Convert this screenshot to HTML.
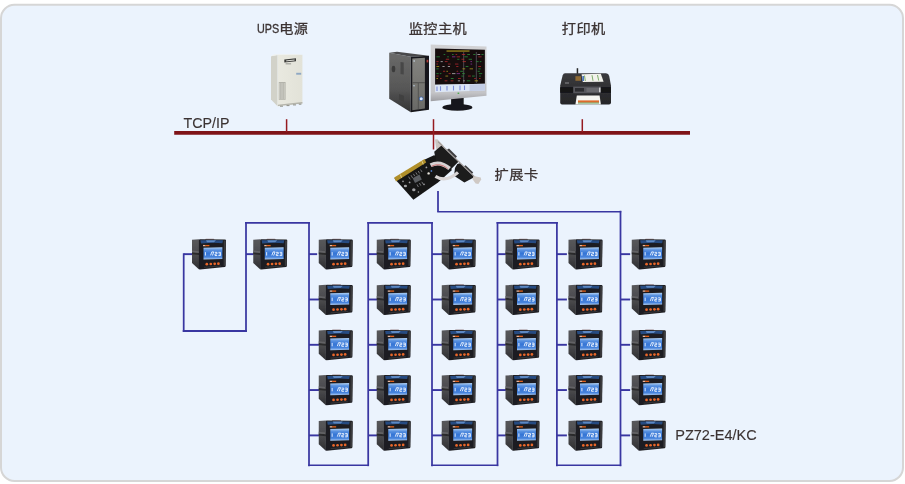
<!DOCTYPE html>
<html lang="zh-CN"><head><meta charset="utf-8"><title>监控系统网络结构图</title>
<style>
html,body{margin:0;padding:0;background:#fff;}
body{width:905px;height:484px;overflow:hidden;}
svg{display:block;}
.cn{font-family:"Liberation Sans","Noto Sans CJK SC",sans-serif;font-size:14.2px;letter-spacing:0.45px;fill:#3b3333;stroke:#3b3333;stroke-width:0.3px;}
.ups{font-family:"Liberation Sans",sans-serif;font-size:15.1px;letter-spacing:0;stroke-width:0.38px;}
.en{font-family:"Liberation Sans",sans-serif;font-size:15px;fill:#3b3333;stroke:#3b3333;stroke-width:0.12px;}
</style></head><body>
<svg width="905" height="484" viewBox="0 0 905 484">
<defs>
<linearGradient id="lcd" x1="0" y1="0" x2="0" y2="1"><stop offset="0" stop-color="#b4d4f6"/><stop offset="0.22" stop-color="#5a92e0"/><stop offset="0.5" stop-color="#3575d6"/><stop offset="0.8" stop-color="#4683dc"/><stop offset="1" stop-color="#acccf4"/></linearGradient>
<filter id="soft" x="-5%" y="-5%" width="110%" height="110%"><feGaussianBlur stdDeviation="0.35"/></filter>
<filter id="tsoft" x="-5%" y="-20%" width="110%" height="140%"><feGaussianBlur stdDeviation="0.25"/></filter>
<linearGradient id="upsF" x1="0" y1="0" x2="1" y2="0"><stop offset="0" stop-color="#e9e9e0"/><stop offset="1" stop-color="#e2e2d8"/></linearGradient>
<linearGradient id="pcS" x1="0" y1="0" x2="0" y2="1"><stop offset="0" stop-color="#6a6a69"/><stop offset="0.6" stop-color="#575757"/><stop offset="1" stop-color="#333334"/></linearGradient>
<linearGradient id="pcF" x1="0" y1="0" x2="0" y2="1"><stop offset="0" stop-color="#83837f"/><stop offset="1" stop-color="#6a6a67"/></linearGradient>
<linearGradient id="monB" x1="0" y1="0" x2="0" y2="1"><stop offset="0" stop-color="#d2d2d4"/><stop offset="0.85" stop-color="#c4c4c7"/><stop offset="1" stop-color="#9d9da2"/></linearGradient>
<linearGradient id="prB" x1="0" y1="0" x2="0" y2="1"><stop offset="0" stop-color="#3a3a3d"/><stop offset="1" stop-color="#262628"/></linearGradient>
<linearGradient id="mside" x1="0" y1="0" x2="0" y2="1"><stop offset="0" stop-color="#58585b"/><stop offset="0.55" stop-color="#48484b"/><stop offset="1" stop-color="#2e2e31"/></linearGradient>
</defs>
<rect x="0" y="0" width="905" height="484" fill="#ffffff"/>
<rect x="1" y="4.8" width="902" height="476.2" rx="13.5" ry="13.5" fill="#ebf3fd" stroke="#d6d6d6" stroke-width="2"/>
<g stroke="#7f1318" fill="none">
<line x1="174.2" y1="132.8" x2="690" y2="132.8" stroke-width="3.7"/>
<line x1="286.6" y1="119.2" x2="286.6" y2="132" stroke-width="1.5" stroke="#951a20"/>
<line x1="433.5" y1="119.2" x2="433.5" y2="149.5" stroke-width="1.5" stroke="#951a20"/>
<line x1="582.3" y1="119.2" x2="582.3" y2="132" stroke-width="1.5" stroke="#951a20"/>
</g>
<g stroke="#3936a1" fill="none" stroke-linecap="square">
<line x1="438.0" y1="191" x2="438.0" y2="211.7" stroke-width="1.75" stroke-linecap="butt"/>
<line x1="438.0" y1="211.7" x2="620.5" y2="211.7" stroke-width="1.55"/>
<line x1="620.5" y1="211.7" x2="620.5" y2="465.3" stroke-width="1.75"/>
<line x1="620.5" y1="465.3" x2="556.9" y2="465.3" stroke-width="1.4"/>
<line x1="556.9" y1="465.3" x2="556.9" y2="222.9" stroke-width="1.75"/>
<line x1="556.9" y1="222.9" x2="497.5" y2="222.9" stroke-width="1.9"/>
<line x1="497.5" y1="222.9" x2="497.5" y2="465.3" stroke-width="1.75"/>
<line x1="497.5" y1="465.3" x2="432.0" y2="465.3" stroke-width="1.4"/>
<line x1="432.0" y1="465.3" x2="432.0" y2="222.9" stroke-width="1.75"/>
<line x1="432.0" y1="222.9" x2="368.2" y2="222.9" stroke-width="1.9"/>
<line x1="368.2" y1="222.9" x2="368.2" y2="465.3" stroke-width="1.75"/>
<line x1="368.2" y1="465.3" x2="309.0" y2="465.3" stroke-width="1.4"/>
<line x1="309.0" y1="465.3" x2="309.0" y2="222.9" stroke-width="1.75"/>
<line x1="309.0" y1="222.9" x2="246" y2="222.9" stroke-width="1.9"/>
<line x1="246" y1="222.9" x2="246" y2="331.0" stroke-width="1.75"/>
<line x1="246" y1="331.0" x2="183.7" y2="331.0" stroke-width="1.9"/>
<line x1="183.7" y1="331.0" x2="183.7" y2="254.15" stroke-width="1.75"/>
<line x1="183.7" y1="254.15" x2="192.6" y2="254.15" stroke-width="1.9" stroke-linecap="butt"/>
<line x1="246" y1="254.15" x2="253.85" y2="254.15" stroke-width="1.9" stroke-linecap="butt"/>
<line x1="309.0" y1="254.15" x2="317.15" y2="254.15" stroke-width="1.9" stroke-linecap="butt"/>
<line x1="309.0" y1="299.5" x2="319.15" y2="299.5" stroke-width="1.9" stroke-linecap="butt"/>
<line x1="309.0" y1="344.8" x2="319.15" y2="344.8" stroke-width="1.9" stroke-linecap="butt"/>
<line x1="309.0" y1="390.05" x2="319.15" y2="390.05" stroke-width="1.9" stroke-linecap="butt"/>
<line x1="309.0" y1="435.4" x2="319.15" y2="435.4" stroke-width="1.9" stroke-linecap="butt"/>
<line x1="368.2" y1="254.15" x2="377.15" y2="254.15" stroke-width="1.9" stroke-linecap="butt"/>
<line x1="368.2" y1="299.5" x2="377.15" y2="299.5" stroke-width="1.9" stroke-linecap="butt"/>
<line x1="368.2" y1="344.8" x2="377.15" y2="344.8" stroke-width="1.9" stroke-linecap="butt"/>
<line x1="368.2" y1="390.05" x2="377.15" y2="390.05" stroke-width="1.9" stroke-linecap="butt"/>
<line x1="368.2" y1="435.4" x2="377.15" y2="435.4" stroke-width="1.9" stroke-linecap="butt"/>
<line x1="432.0" y1="254.15" x2="442.15" y2="254.15" stroke-width="1.9" stroke-linecap="butt"/>
<line x1="432.0" y1="299.5" x2="442.15" y2="299.5" stroke-width="1.9" stroke-linecap="butt"/>
<line x1="432.0" y1="344.8" x2="442.15" y2="344.8" stroke-width="1.9" stroke-linecap="butt"/>
<line x1="432.0" y1="390.05" x2="442.15" y2="390.05" stroke-width="1.9" stroke-linecap="butt"/>
<line x1="432.0" y1="435.4" x2="442.15" y2="435.4" stroke-width="1.9" stroke-linecap="butt"/>
<line x1="497.5" y1="254.15" x2="505.9" y2="254.15" stroke-width="1.9" stroke-linecap="butt"/>
<line x1="497.5" y1="299.5" x2="505.9" y2="299.5" stroke-width="1.9" stroke-linecap="butt"/>
<line x1="497.5" y1="344.8" x2="505.9" y2="344.8" stroke-width="1.9" stroke-linecap="butt"/>
<line x1="497.5" y1="390.05" x2="505.9" y2="390.05" stroke-width="1.9" stroke-linecap="butt"/>
<line x1="497.5" y1="435.4" x2="505.9" y2="435.4" stroke-width="1.9" stroke-linecap="butt"/>
<line x1="556.9" y1="254.15" x2="566.9" y2="254.15" stroke-width="1.9" stroke-linecap="butt"/>
<line x1="556.9" y1="299.5" x2="566.9" y2="299.5" stroke-width="1.9" stroke-linecap="butt"/>
<line x1="556.9" y1="344.8" x2="566.9" y2="344.8" stroke-width="1.9" stroke-linecap="butt"/>
<line x1="556.9" y1="390.05" x2="566.9" y2="390.05" stroke-width="1.9" stroke-linecap="butt"/>
<line x1="556.9" y1="435.4" x2="566.9" y2="435.4" stroke-width="1.9" stroke-linecap="butt"/>
<line x1="620.5" y1="254.15" x2="630.15" y2="254.15" stroke-width="1.9" stroke-linecap="butt"/>
<line x1="620.5" y1="299.5" x2="630.15" y2="299.5" stroke-width="1.9" stroke-linecap="butt"/>
<line x1="620.5" y1="344.8" x2="630.15" y2="344.8" stroke-width="1.9" stroke-linecap="butt"/>
<line x1="620.5" y1="390.05" x2="630.15" y2="390.05" stroke-width="1.9" stroke-linecap="butt"/>
<line x1="620.5" y1="435.4" x2="630.15" y2="435.4" stroke-width="1.9" stroke-linecap="butt"/>
</g>
<g transform="translate(192,238.75)" filter="url(#soft)">
<polygon points="0,1.1 7.1,0.6 7.1,30.7 0,24.2" fill="url(#mside)"/>
<polygon points="0,13.6 7.1,14.3 7.1,16.2 0,15.4" fill="#29292b"/>
<polygon points="0,11.8 7.1,12.5 7.1,14.3 0,13.6" fill="#626265"/>
<rect x="13.2" y="-0.1" width="9.2" height="1.6" rx="0.8" fill="#a08c90"/>
<path d="M8,0.6 L33,0.8 Q34,0.8 34,1.8 L33.6,27.2 Q33.6,28.1 32.7,28.2 L8,30.8 Q6.9,30.9 6.9,29.8 L6.9,1.6 Q6.9,0.6 8,0.6Z" fill="#1e1e21"/>
<polygon points="31.8,1.8 33.8,1.8 33.4,27 31.6,27.2" fill="#3a3a3d"/>
<polygon points="8.4,1.5 31,1.6 30.4,4.4 21,4 9,4.8" fill="#2b5a9d" opacity="0.78"/>
<polygon points="14,1.6 24,1.6 22,3.4 15,3.6" fill="#6a98d4" opacity="0.8"/>
<rect x="11" y="6.2" width="2.6" height="1.3" fill="#e8b8a0"/><rect x="13.4" y="6.2" width="4" height="1.3" fill="#e2621e"/>
<polygon points="11.5,8.9 30.4,8.5 30.4,20.3 11.5,20.7" fill="url(#lcd)"/>
<path d="M13.4,13.4v3.4M18.6,16.6l1.2,-3.4h2l-1.4,3.6M22.8,13.6h2.2v1.6h-2v1.6h2.2M26.4,13.6h2.2v3.2h-2.2M26.6,15.2h2" stroke="#f2f7ff" stroke-width="0.9" fill="none"/>
<circle cx="14.8" cy="25.4" r="1.35" fill="#ea672b"/>
<circle cx="18.8" cy="25.25" r="1.35" fill="#ea672b"/>
<circle cx="22.7" cy="25.1" r="1.35" fill="#ea672b"/>
<circle cx="26.4" cy="24.95" r="1.35" fill="#ea672b"/>
<path d="M12,28.6 L29,27.2" stroke="#3a3a3e" stroke-width="0.8"/>
</g>
<g transform="translate(253.25,238.75)" filter="url(#soft)">
<polygon points="0,1.1 7.1,0.6 7.1,30.7 0,24.2" fill="url(#mside)"/>
<polygon points="0,13.6 7.1,14.3 7.1,16.2 0,15.4" fill="#29292b"/>
<polygon points="0,11.8 7.1,12.5 7.1,14.3 0,13.6" fill="#626265"/>
<rect x="13.2" y="-0.1" width="9.2" height="1.6" rx="0.8" fill="#a08c90"/>
<path d="M8,0.6 L33,0.8 Q34,0.8 34,1.8 L33.6,27.2 Q33.6,28.1 32.7,28.2 L8,30.8 Q6.9,30.9 6.9,29.8 L6.9,1.6 Q6.9,0.6 8,0.6Z" fill="#1e1e21"/>
<polygon points="31.8,1.8 33.8,1.8 33.4,27 31.6,27.2" fill="#3a3a3d"/>
<polygon points="8.4,1.5 31,1.6 30.4,4.4 21,4 9,4.8" fill="#2b5a9d" opacity="0.78"/>
<polygon points="14,1.6 24,1.6 22,3.4 15,3.6" fill="#6a98d4" opacity="0.8"/>
<rect x="11" y="6.2" width="2.6" height="1.3" fill="#e8b8a0"/><rect x="13.4" y="6.2" width="4" height="1.3" fill="#e2621e"/>
<polygon points="11.5,8.9 30.4,8.5 30.4,20.3 11.5,20.7" fill="url(#lcd)"/>
<path d="M13.4,13.4v3.4M18.6,16.6l1.2,-3.4h2l-1.4,3.6M22.8,13.6h2.2v1.6h-2v1.6h2.2M26.4,13.6h2.2v3.2h-2.2M26.6,15.2h2" stroke="#f2f7ff" stroke-width="0.9" fill="none"/>
<circle cx="14.8" cy="25.4" r="1.35" fill="#ea672b"/>
<circle cx="18.8" cy="25.25" r="1.35" fill="#ea672b"/>
<circle cx="22.7" cy="25.1" r="1.35" fill="#ea672b"/>
<circle cx="26.4" cy="24.95" r="1.35" fill="#ea672b"/>
<path d="M12,28.6 L29,27.2" stroke="#3a3a3e" stroke-width="0.8"/>
</g>
<g transform="translate(318.75,238.75)" filter="url(#soft)">
<polygon points="0,1.1 7.1,0.6 7.1,30.7 0,24.2" fill="url(#mside)"/>
<polygon points="0,13.6 7.1,14.3 7.1,16.2 0,15.4" fill="#29292b"/>
<polygon points="0,11.8 7.1,12.5 7.1,14.3 0,13.6" fill="#626265"/>
<rect x="13.2" y="-0.1" width="9.2" height="1.6" rx="0.8" fill="#a08c90"/>
<path d="M8,0.6 L33,0.8 Q34,0.8 34,1.8 L33.6,27.2 Q33.6,28.1 32.7,28.2 L8,30.8 Q6.9,30.9 6.9,29.8 L6.9,1.6 Q6.9,0.6 8,0.6Z" fill="#1e1e21"/>
<polygon points="31.8,1.8 33.8,1.8 33.4,27 31.6,27.2" fill="#3a3a3d"/>
<polygon points="8.4,1.5 31,1.6 30.4,4.4 21,4 9,4.8" fill="#2b5a9d" opacity="0.78"/>
<polygon points="14,1.6 24,1.6 22,3.4 15,3.6" fill="#6a98d4" opacity="0.8"/>
<rect x="11" y="6.2" width="2.6" height="1.3" fill="#e8b8a0"/><rect x="13.4" y="6.2" width="4" height="1.3" fill="#e2621e"/>
<polygon points="11.5,8.9 30.4,8.5 30.4,20.3 11.5,20.7" fill="url(#lcd)"/>
<path d="M13.4,13.4v3.4M18.6,16.6l1.2,-3.4h2l-1.4,3.6M22.8,13.6h2.2v1.6h-2v1.6h2.2M26.4,13.6h2.2v3.2h-2.2M26.6,15.2h2" stroke="#f2f7ff" stroke-width="0.9" fill="none"/>
<circle cx="14.8" cy="25.4" r="1.35" fill="#ea672b"/>
<circle cx="18.8" cy="25.25" r="1.35" fill="#ea672b"/>
<circle cx="22.7" cy="25.1" r="1.35" fill="#ea672b"/>
<circle cx="26.4" cy="24.95" r="1.35" fill="#ea672b"/>
<path d="M12,28.6 L29,27.2" stroke="#3a3a3e" stroke-width="0.8"/>
</g>
<g transform="translate(318.75,284.25)" filter="url(#soft)">
<polygon points="0,1.1 7.1,0.6 7.1,30.7 0,24.2" fill="url(#mside)"/>
<polygon points="0,13.6 7.1,14.3 7.1,16.2 0,15.4" fill="#29292b"/>
<polygon points="0,11.8 7.1,12.5 7.1,14.3 0,13.6" fill="#626265"/>
<rect x="13.2" y="-0.1" width="9.2" height="1.6" rx="0.8" fill="#a08c90"/>
<path d="M8,0.6 L33,0.8 Q34,0.8 34,1.8 L33.6,27.2 Q33.6,28.1 32.7,28.2 L8,30.8 Q6.9,30.9 6.9,29.8 L6.9,1.6 Q6.9,0.6 8,0.6Z" fill="#1e1e21"/>
<polygon points="31.8,1.8 33.8,1.8 33.4,27 31.6,27.2" fill="#3a3a3d"/>
<polygon points="8.4,1.5 31,1.6 30.4,4.4 21,4 9,4.8" fill="#2b5a9d" opacity="0.78"/>
<polygon points="14,1.6 24,1.6 22,3.4 15,3.6" fill="#6a98d4" opacity="0.8"/>
<rect x="11" y="6.2" width="2.6" height="1.3" fill="#e8b8a0"/><rect x="13.4" y="6.2" width="4" height="1.3" fill="#e2621e"/>
<polygon points="11.5,8.9 30.4,8.5 30.4,20.3 11.5,20.7" fill="url(#lcd)"/>
<path d="M13.4,13.4v3.4M18.6,16.6l1.2,-3.4h2l-1.4,3.6M22.8,13.6h2.2v1.6h-2v1.6h2.2M26.4,13.6h2.2v3.2h-2.2M26.6,15.2h2" stroke="#f2f7ff" stroke-width="0.9" fill="none"/>
<circle cx="14.8" cy="25.4" r="1.35" fill="#ea672b"/>
<circle cx="18.8" cy="25.25" r="1.35" fill="#ea672b"/>
<circle cx="22.7" cy="25.1" r="1.35" fill="#ea672b"/>
<circle cx="26.4" cy="24.95" r="1.35" fill="#ea672b"/>
<path d="M12,28.6 L29,27.2" stroke="#3a3a3e" stroke-width="0.8"/>
</g>
<g transform="translate(318.75,329.5)" filter="url(#soft)">
<polygon points="0,1.1 7.1,0.6 7.1,30.7 0,24.2" fill="url(#mside)"/>
<polygon points="0,13.6 7.1,14.3 7.1,16.2 0,15.4" fill="#29292b"/>
<polygon points="0,11.8 7.1,12.5 7.1,14.3 0,13.6" fill="#626265"/>
<rect x="13.2" y="-0.1" width="9.2" height="1.6" rx="0.8" fill="#a08c90"/>
<path d="M8,0.6 L33,0.8 Q34,0.8 34,1.8 L33.6,27.2 Q33.6,28.1 32.7,28.2 L8,30.8 Q6.9,30.9 6.9,29.8 L6.9,1.6 Q6.9,0.6 8,0.6Z" fill="#1e1e21"/>
<polygon points="31.8,1.8 33.8,1.8 33.4,27 31.6,27.2" fill="#3a3a3d"/>
<polygon points="8.4,1.5 31,1.6 30.4,4.4 21,4 9,4.8" fill="#2b5a9d" opacity="0.78"/>
<polygon points="14,1.6 24,1.6 22,3.4 15,3.6" fill="#6a98d4" opacity="0.8"/>
<rect x="11" y="6.2" width="2.6" height="1.3" fill="#e8b8a0"/><rect x="13.4" y="6.2" width="4" height="1.3" fill="#e2621e"/>
<polygon points="11.5,8.9 30.4,8.5 30.4,20.3 11.5,20.7" fill="url(#lcd)"/>
<path d="M13.4,13.4v3.4M18.6,16.6l1.2,-3.4h2l-1.4,3.6M22.8,13.6h2.2v1.6h-2v1.6h2.2M26.4,13.6h2.2v3.2h-2.2M26.6,15.2h2" stroke="#f2f7ff" stroke-width="0.9" fill="none"/>
<circle cx="14.8" cy="25.4" r="1.35" fill="#ea672b"/>
<circle cx="18.8" cy="25.25" r="1.35" fill="#ea672b"/>
<circle cx="22.7" cy="25.1" r="1.35" fill="#ea672b"/>
<circle cx="26.4" cy="24.95" r="1.35" fill="#ea672b"/>
<path d="M12,28.6 L29,27.2" stroke="#3a3a3e" stroke-width="0.8"/>
</g>
<g transform="translate(318.75,374.5)" filter="url(#soft)">
<polygon points="0,1.1 7.1,0.6 7.1,30.7 0,24.2" fill="url(#mside)"/>
<polygon points="0,13.6 7.1,14.3 7.1,16.2 0,15.4" fill="#29292b"/>
<polygon points="0,11.8 7.1,12.5 7.1,14.3 0,13.6" fill="#626265"/>
<rect x="13.2" y="-0.1" width="9.2" height="1.6" rx="0.8" fill="#a08c90"/>
<path d="M8,0.6 L33,0.8 Q34,0.8 34,1.8 L33.6,27.2 Q33.6,28.1 32.7,28.2 L8,30.8 Q6.9,30.9 6.9,29.8 L6.9,1.6 Q6.9,0.6 8,0.6Z" fill="#1e1e21"/>
<polygon points="31.8,1.8 33.8,1.8 33.4,27 31.6,27.2" fill="#3a3a3d"/>
<polygon points="8.4,1.5 31,1.6 30.4,4.4 21,4 9,4.8" fill="#2b5a9d" opacity="0.78"/>
<polygon points="14,1.6 24,1.6 22,3.4 15,3.6" fill="#6a98d4" opacity="0.8"/>
<rect x="11" y="6.2" width="2.6" height="1.3" fill="#e8b8a0"/><rect x="13.4" y="6.2" width="4" height="1.3" fill="#e2621e"/>
<polygon points="11.5,8.9 30.4,8.5 30.4,20.3 11.5,20.7" fill="url(#lcd)"/>
<path d="M13.4,13.4v3.4M18.6,16.6l1.2,-3.4h2l-1.4,3.6M22.8,13.6h2.2v1.6h-2v1.6h2.2M26.4,13.6h2.2v3.2h-2.2M26.6,15.2h2" stroke="#f2f7ff" stroke-width="0.9" fill="none"/>
<circle cx="14.8" cy="25.4" r="1.35" fill="#ea672b"/>
<circle cx="18.8" cy="25.25" r="1.35" fill="#ea672b"/>
<circle cx="22.7" cy="25.1" r="1.35" fill="#ea672b"/>
<circle cx="26.4" cy="24.95" r="1.35" fill="#ea672b"/>
<path d="M12,28.6 L29,27.2" stroke="#3a3a3e" stroke-width="0.8"/>
</g>
<g transform="translate(318.75,420)" filter="url(#soft)">
<polygon points="0,1.1 7.1,0.6 7.1,30.7 0,24.2" fill="url(#mside)"/>
<polygon points="0,13.6 7.1,14.3 7.1,16.2 0,15.4" fill="#29292b"/>
<polygon points="0,11.8 7.1,12.5 7.1,14.3 0,13.6" fill="#626265"/>
<rect x="13.2" y="-0.1" width="9.2" height="1.6" rx="0.8" fill="#a08c90"/>
<path d="M8,0.6 L33,0.8 Q34,0.8 34,1.8 L33.6,27.2 Q33.6,28.1 32.7,28.2 L8,30.8 Q6.9,30.9 6.9,29.8 L6.9,1.6 Q6.9,0.6 8,0.6Z" fill="#1e1e21"/>
<polygon points="31.8,1.8 33.8,1.8 33.4,27 31.6,27.2" fill="#3a3a3d"/>
<polygon points="8.4,1.5 31,1.6 30.4,4.4 21,4 9,4.8" fill="#2b5a9d" opacity="0.78"/>
<polygon points="14,1.6 24,1.6 22,3.4 15,3.6" fill="#6a98d4" opacity="0.8"/>
<rect x="11" y="6.2" width="2.6" height="1.3" fill="#e8b8a0"/><rect x="13.4" y="6.2" width="4" height="1.3" fill="#e2621e"/>
<polygon points="11.5,8.9 30.4,8.5 30.4,20.3 11.5,20.7" fill="url(#lcd)"/>
<path d="M13.4,13.4v3.4M18.6,16.6l1.2,-3.4h2l-1.4,3.6M22.8,13.6h2.2v1.6h-2v1.6h2.2M26.4,13.6h2.2v3.2h-2.2M26.6,15.2h2" stroke="#f2f7ff" stroke-width="0.9" fill="none"/>
<circle cx="14.8" cy="25.4" r="1.35" fill="#ea672b"/>
<circle cx="18.8" cy="25.25" r="1.35" fill="#ea672b"/>
<circle cx="22.7" cy="25.1" r="1.35" fill="#ea672b"/>
<circle cx="26.4" cy="24.95" r="1.35" fill="#ea672b"/>
<path d="M12,28.6 L29,27.2" stroke="#3a3a3e" stroke-width="0.8"/>
</g>
<g transform="translate(376.75,238.75)" filter="url(#soft)">
<polygon points="0,1.1 7.1,0.6 7.1,30.7 0,24.2" fill="url(#mside)"/>
<polygon points="0,13.6 7.1,14.3 7.1,16.2 0,15.4" fill="#29292b"/>
<polygon points="0,11.8 7.1,12.5 7.1,14.3 0,13.6" fill="#626265"/>
<rect x="13.2" y="-0.1" width="9.2" height="1.6" rx="0.8" fill="#a08c90"/>
<path d="M8,0.6 L33,0.8 Q34,0.8 34,1.8 L33.6,27.2 Q33.6,28.1 32.7,28.2 L8,30.8 Q6.9,30.9 6.9,29.8 L6.9,1.6 Q6.9,0.6 8,0.6Z" fill="#1e1e21"/>
<polygon points="31.8,1.8 33.8,1.8 33.4,27 31.6,27.2" fill="#3a3a3d"/>
<polygon points="8.4,1.5 31,1.6 30.4,4.4 21,4 9,4.8" fill="#2b5a9d" opacity="0.78"/>
<polygon points="14,1.6 24,1.6 22,3.4 15,3.6" fill="#6a98d4" opacity="0.8"/>
<rect x="11" y="6.2" width="2.6" height="1.3" fill="#e8b8a0"/><rect x="13.4" y="6.2" width="4" height="1.3" fill="#e2621e"/>
<polygon points="11.5,8.9 30.4,8.5 30.4,20.3 11.5,20.7" fill="url(#lcd)"/>
<path d="M13.4,13.4v3.4M18.6,16.6l1.2,-3.4h2l-1.4,3.6M22.8,13.6h2.2v1.6h-2v1.6h2.2M26.4,13.6h2.2v3.2h-2.2M26.6,15.2h2" stroke="#f2f7ff" stroke-width="0.9" fill="none"/>
<circle cx="14.8" cy="25.4" r="1.35" fill="#ea672b"/>
<circle cx="18.8" cy="25.25" r="1.35" fill="#ea672b"/>
<circle cx="22.7" cy="25.1" r="1.35" fill="#ea672b"/>
<circle cx="26.4" cy="24.95" r="1.35" fill="#ea672b"/>
<path d="M12,28.6 L29,27.2" stroke="#3a3a3e" stroke-width="0.8"/>
</g>
<g transform="translate(376.75,284.25)" filter="url(#soft)">
<polygon points="0,1.1 7.1,0.6 7.1,30.7 0,24.2" fill="url(#mside)"/>
<polygon points="0,13.6 7.1,14.3 7.1,16.2 0,15.4" fill="#29292b"/>
<polygon points="0,11.8 7.1,12.5 7.1,14.3 0,13.6" fill="#626265"/>
<rect x="13.2" y="-0.1" width="9.2" height="1.6" rx="0.8" fill="#a08c90"/>
<path d="M8,0.6 L33,0.8 Q34,0.8 34,1.8 L33.6,27.2 Q33.6,28.1 32.7,28.2 L8,30.8 Q6.9,30.9 6.9,29.8 L6.9,1.6 Q6.9,0.6 8,0.6Z" fill="#1e1e21"/>
<polygon points="31.8,1.8 33.8,1.8 33.4,27 31.6,27.2" fill="#3a3a3d"/>
<polygon points="8.4,1.5 31,1.6 30.4,4.4 21,4 9,4.8" fill="#2b5a9d" opacity="0.78"/>
<polygon points="14,1.6 24,1.6 22,3.4 15,3.6" fill="#6a98d4" opacity="0.8"/>
<rect x="11" y="6.2" width="2.6" height="1.3" fill="#e8b8a0"/><rect x="13.4" y="6.2" width="4" height="1.3" fill="#e2621e"/>
<polygon points="11.5,8.9 30.4,8.5 30.4,20.3 11.5,20.7" fill="url(#lcd)"/>
<path d="M13.4,13.4v3.4M18.6,16.6l1.2,-3.4h2l-1.4,3.6M22.8,13.6h2.2v1.6h-2v1.6h2.2M26.4,13.6h2.2v3.2h-2.2M26.6,15.2h2" stroke="#f2f7ff" stroke-width="0.9" fill="none"/>
<circle cx="14.8" cy="25.4" r="1.35" fill="#ea672b"/>
<circle cx="18.8" cy="25.25" r="1.35" fill="#ea672b"/>
<circle cx="22.7" cy="25.1" r="1.35" fill="#ea672b"/>
<circle cx="26.4" cy="24.95" r="1.35" fill="#ea672b"/>
<path d="M12,28.6 L29,27.2" stroke="#3a3a3e" stroke-width="0.8"/>
</g>
<g transform="translate(376.75,329.5)" filter="url(#soft)">
<polygon points="0,1.1 7.1,0.6 7.1,30.7 0,24.2" fill="url(#mside)"/>
<polygon points="0,13.6 7.1,14.3 7.1,16.2 0,15.4" fill="#29292b"/>
<polygon points="0,11.8 7.1,12.5 7.1,14.3 0,13.6" fill="#626265"/>
<rect x="13.2" y="-0.1" width="9.2" height="1.6" rx="0.8" fill="#a08c90"/>
<path d="M8,0.6 L33,0.8 Q34,0.8 34,1.8 L33.6,27.2 Q33.6,28.1 32.7,28.2 L8,30.8 Q6.9,30.9 6.9,29.8 L6.9,1.6 Q6.9,0.6 8,0.6Z" fill="#1e1e21"/>
<polygon points="31.8,1.8 33.8,1.8 33.4,27 31.6,27.2" fill="#3a3a3d"/>
<polygon points="8.4,1.5 31,1.6 30.4,4.4 21,4 9,4.8" fill="#2b5a9d" opacity="0.78"/>
<polygon points="14,1.6 24,1.6 22,3.4 15,3.6" fill="#6a98d4" opacity="0.8"/>
<rect x="11" y="6.2" width="2.6" height="1.3" fill="#e8b8a0"/><rect x="13.4" y="6.2" width="4" height="1.3" fill="#e2621e"/>
<polygon points="11.5,8.9 30.4,8.5 30.4,20.3 11.5,20.7" fill="url(#lcd)"/>
<path d="M13.4,13.4v3.4M18.6,16.6l1.2,-3.4h2l-1.4,3.6M22.8,13.6h2.2v1.6h-2v1.6h2.2M26.4,13.6h2.2v3.2h-2.2M26.6,15.2h2" stroke="#f2f7ff" stroke-width="0.9" fill="none"/>
<circle cx="14.8" cy="25.4" r="1.35" fill="#ea672b"/>
<circle cx="18.8" cy="25.25" r="1.35" fill="#ea672b"/>
<circle cx="22.7" cy="25.1" r="1.35" fill="#ea672b"/>
<circle cx="26.4" cy="24.95" r="1.35" fill="#ea672b"/>
<path d="M12,28.6 L29,27.2" stroke="#3a3a3e" stroke-width="0.8"/>
</g>
<g transform="translate(376.75,374.5)" filter="url(#soft)">
<polygon points="0,1.1 7.1,0.6 7.1,30.7 0,24.2" fill="url(#mside)"/>
<polygon points="0,13.6 7.1,14.3 7.1,16.2 0,15.4" fill="#29292b"/>
<polygon points="0,11.8 7.1,12.5 7.1,14.3 0,13.6" fill="#626265"/>
<rect x="13.2" y="-0.1" width="9.2" height="1.6" rx="0.8" fill="#a08c90"/>
<path d="M8,0.6 L33,0.8 Q34,0.8 34,1.8 L33.6,27.2 Q33.6,28.1 32.7,28.2 L8,30.8 Q6.9,30.9 6.9,29.8 L6.9,1.6 Q6.9,0.6 8,0.6Z" fill="#1e1e21"/>
<polygon points="31.8,1.8 33.8,1.8 33.4,27 31.6,27.2" fill="#3a3a3d"/>
<polygon points="8.4,1.5 31,1.6 30.4,4.4 21,4 9,4.8" fill="#2b5a9d" opacity="0.78"/>
<polygon points="14,1.6 24,1.6 22,3.4 15,3.6" fill="#6a98d4" opacity="0.8"/>
<rect x="11" y="6.2" width="2.6" height="1.3" fill="#e8b8a0"/><rect x="13.4" y="6.2" width="4" height="1.3" fill="#e2621e"/>
<polygon points="11.5,8.9 30.4,8.5 30.4,20.3 11.5,20.7" fill="url(#lcd)"/>
<path d="M13.4,13.4v3.4M18.6,16.6l1.2,-3.4h2l-1.4,3.6M22.8,13.6h2.2v1.6h-2v1.6h2.2M26.4,13.6h2.2v3.2h-2.2M26.6,15.2h2" stroke="#f2f7ff" stroke-width="0.9" fill="none"/>
<circle cx="14.8" cy="25.4" r="1.35" fill="#ea672b"/>
<circle cx="18.8" cy="25.25" r="1.35" fill="#ea672b"/>
<circle cx="22.7" cy="25.1" r="1.35" fill="#ea672b"/>
<circle cx="26.4" cy="24.95" r="1.35" fill="#ea672b"/>
<path d="M12,28.6 L29,27.2" stroke="#3a3a3e" stroke-width="0.8"/>
</g>
<g transform="translate(376.75,420)" filter="url(#soft)">
<polygon points="0,1.1 7.1,0.6 7.1,30.7 0,24.2" fill="url(#mside)"/>
<polygon points="0,13.6 7.1,14.3 7.1,16.2 0,15.4" fill="#29292b"/>
<polygon points="0,11.8 7.1,12.5 7.1,14.3 0,13.6" fill="#626265"/>
<rect x="13.2" y="-0.1" width="9.2" height="1.6" rx="0.8" fill="#a08c90"/>
<path d="M8,0.6 L33,0.8 Q34,0.8 34,1.8 L33.6,27.2 Q33.6,28.1 32.7,28.2 L8,30.8 Q6.9,30.9 6.9,29.8 L6.9,1.6 Q6.9,0.6 8,0.6Z" fill="#1e1e21"/>
<polygon points="31.8,1.8 33.8,1.8 33.4,27 31.6,27.2" fill="#3a3a3d"/>
<polygon points="8.4,1.5 31,1.6 30.4,4.4 21,4 9,4.8" fill="#2b5a9d" opacity="0.78"/>
<polygon points="14,1.6 24,1.6 22,3.4 15,3.6" fill="#6a98d4" opacity="0.8"/>
<rect x="11" y="6.2" width="2.6" height="1.3" fill="#e8b8a0"/><rect x="13.4" y="6.2" width="4" height="1.3" fill="#e2621e"/>
<polygon points="11.5,8.9 30.4,8.5 30.4,20.3 11.5,20.7" fill="url(#lcd)"/>
<path d="M13.4,13.4v3.4M18.6,16.6l1.2,-3.4h2l-1.4,3.6M22.8,13.6h2.2v1.6h-2v1.6h2.2M26.4,13.6h2.2v3.2h-2.2M26.6,15.2h2" stroke="#f2f7ff" stroke-width="0.9" fill="none"/>
<circle cx="14.8" cy="25.4" r="1.35" fill="#ea672b"/>
<circle cx="18.8" cy="25.25" r="1.35" fill="#ea672b"/>
<circle cx="22.7" cy="25.1" r="1.35" fill="#ea672b"/>
<circle cx="26.4" cy="24.95" r="1.35" fill="#ea672b"/>
<path d="M12,28.6 L29,27.2" stroke="#3a3a3e" stroke-width="0.8"/>
</g>
<g transform="translate(441.75,238.75)" filter="url(#soft)">
<polygon points="0,1.1 7.1,0.6 7.1,30.7 0,24.2" fill="url(#mside)"/>
<polygon points="0,13.6 7.1,14.3 7.1,16.2 0,15.4" fill="#29292b"/>
<polygon points="0,11.8 7.1,12.5 7.1,14.3 0,13.6" fill="#626265"/>
<rect x="13.2" y="-0.1" width="9.2" height="1.6" rx="0.8" fill="#a08c90"/>
<path d="M8,0.6 L33,0.8 Q34,0.8 34,1.8 L33.6,27.2 Q33.6,28.1 32.7,28.2 L8,30.8 Q6.9,30.9 6.9,29.8 L6.9,1.6 Q6.9,0.6 8,0.6Z" fill="#1e1e21"/>
<polygon points="31.8,1.8 33.8,1.8 33.4,27 31.6,27.2" fill="#3a3a3d"/>
<polygon points="8.4,1.5 31,1.6 30.4,4.4 21,4 9,4.8" fill="#2b5a9d" opacity="0.78"/>
<polygon points="14,1.6 24,1.6 22,3.4 15,3.6" fill="#6a98d4" opacity="0.8"/>
<rect x="11" y="6.2" width="2.6" height="1.3" fill="#e8b8a0"/><rect x="13.4" y="6.2" width="4" height="1.3" fill="#e2621e"/>
<polygon points="11.5,8.9 30.4,8.5 30.4,20.3 11.5,20.7" fill="url(#lcd)"/>
<path d="M13.4,13.4v3.4M18.6,16.6l1.2,-3.4h2l-1.4,3.6M22.8,13.6h2.2v1.6h-2v1.6h2.2M26.4,13.6h2.2v3.2h-2.2M26.6,15.2h2" stroke="#f2f7ff" stroke-width="0.9" fill="none"/>
<circle cx="14.8" cy="25.4" r="1.35" fill="#ea672b"/>
<circle cx="18.8" cy="25.25" r="1.35" fill="#ea672b"/>
<circle cx="22.7" cy="25.1" r="1.35" fill="#ea672b"/>
<circle cx="26.4" cy="24.95" r="1.35" fill="#ea672b"/>
<path d="M12,28.6 L29,27.2" stroke="#3a3a3e" stroke-width="0.8"/>
</g>
<g transform="translate(441.75,284.25)" filter="url(#soft)">
<polygon points="0,1.1 7.1,0.6 7.1,30.7 0,24.2" fill="url(#mside)"/>
<polygon points="0,13.6 7.1,14.3 7.1,16.2 0,15.4" fill="#29292b"/>
<polygon points="0,11.8 7.1,12.5 7.1,14.3 0,13.6" fill="#626265"/>
<rect x="13.2" y="-0.1" width="9.2" height="1.6" rx="0.8" fill="#a08c90"/>
<path d="M8,0.6 L33,0.8 Q34,0.8 34,1.8 L33.6,27.2 Q33.6,28.1 32.7,28.2 L8,30.8 Q6.9,30.9 6.9,29.8 L6.9,1.6 Q6.9,0.6 8,0.6Z" fill="#1e1e21"/>
<polygon points="31.8,1.8 33.8,1.8 33.4,27 31.6,27.2" fill="#3a3a3d"/>
<polygon points="8.4,1.5 31,1.6 30.4,4.4 21,4 9,4.8" fill="#2b5a9d" opacity="0.78"/>
<polygon points="14,1.6 24,1.6 22,3.4 15,3.6" fill="#6a98d4" opacity="0.8"/>
<rect x="11" y="6.2" width="2.6" height="1.3" fill="#e8b8a0"/><rect x="13.4" y="6.2" width="4" height="1.3" fill="#e2621e"/>
<polygon points="11.5,8.9 30.4,8.5 30.4,20.3 11.5,20.7" fill="url(#lcd)"/>
<path d="M13.4,13.4v3.4M18.6,16.6l1.2,-3.4h2l-1.4,3.6M22.8,13.6h2.2v1.6h-2v1.6h2.2M26.4,13.6h2.2v3.2h-2.2M26.6,15.2h2" stroke="#f2f7ff" stroke-width="0.9" fill="none"/>
<circle cx="14.8" cy="25.4" r="1.35" fill="#ea672b"/>
<circle cx="18.8" cy="25.25" r="1.35" fill="#ea672b"/>
<circle cx="22.7" cy="25.1" r="1.35" fill="#ea672b"/>
<circle cx="26.4" cy="24.95" r="1.35" fill="#ea672b"/>
<path d="M12,28.6 L29,27.2" stroke="#3a3a3e" stroke-width="0.8"/>
</g>
<g transform="translate(441.75,329.5)" filter="url(#soft)">
<polygon points="0,1.1 7.1,0.6 7.1,30.7 0,24.2" fill="url(#mside)"/>
<polygon points="0,13.6 7.1,14.3 7.1,16.2 0,15.4" fill="#29292b"/>
<polygon points="0,11.8 7.1,12.5 7.1,14.3 0,13.6" fill="#626265"/>
<rect x="13.2" y="-0.1" width="9.2" height="1.6" rx="0.8" fill="#a08c90"/>
<path d="M8,0.6 L33,0.8 Q34,0.8 34,1.8 L33.6,27.2 Q33.6,28.1 32.7,28.2 L8,30.8 Q6.9,30.9 6.9,29.8 L6.9,1.6 Q6.9,0.6 8,0.6Z" fill="#1e1e21"/>
<polygon points="31.8,1.8 33.8,1.8 33.4,27 31.6,27.2" fill="#3a3a3d"/>
<polygon points="8.4,1.5 31,1.6 30.4,4.4 21,4 9,4.8" fill="#2b5a9d" opacity="0.78"/>
<polygon points="14,1.6 24,1.6 22,3.4 15,3.6" fill="#6a98d4" opacity="0.8"/>
<rect x="11" y="6.2" width="2.6" height="1.3" fill="#e8b8a0"/><rect x="13.4" y="6.2" width="4" height="1.3" fill="#e2621e"/>
<polygon points="11.5,8.9 30.4,8.5 30.4,20.3 11.5,20.7" fill="url(#lcd)"/>
<path d="M13.4,13.4v3.4M18.6,16.6l1.2,-3.4h2l-1.4,3.6M22.8,13.6h2.2v1.6h-2v1.6h2.2M26.4,13.6h2.2v3.2h-2.2M26.6,15.2h2" stroke="#f2f7ff" stroke-width="0.9" fill="none"/>
<circle cx="14.8" cy="25.4" r="1.35" fill="#ea672b"/>
<circle cx="18.8" cy="25.25" r="1.35" fill="#ea672b"/>
<circle cx="22.7" cy="25.1" r="1.35" fill="#ea672b"/>
<circle cx="26.4" cy="24.95" r="1.35" fill="#ea672b"/>
<path d="M12,28.6 L29,27.2" stroke="#3a3a3e" stroke-width="0.8"/>
</g>
<g transform="translate(441.75,374.5)" filter="url(#soft)">
<polygon points="0,1.1 7.1,0.6 7.1,30.7 0,24.2" fill="url(#mside)"/>
<polygon points="0,13.6 7.1,14.3 7.1,16.2 0,15.4" fill="#29292b"/>
<polygon points="0,11.8 7.1,12.5 7.1,14.3 0,13.6" fill="#626265"/>
<rect x="13.2" y="-0.1" width="9.2" height="1.6" rx="0.8" fill="#a08c90"/>
<path d="M8,0.6 L33,0.8 Q34,0.8 34,1.8 L33.6,27.2 Q33.6,28.1 32.7,28.2 L8,30.8 Q6.9,30.9 6.9,29.8 L6.9,1.6 Q6.9,0.6 8,0.6Z" fill="#1e1e21"/>
<polygon points="31.8,1.8 33.8,1.8 33.4,27 31.6,27.2" fill="#3a3a3d"/>
<polygon points="8.4,1.5 31,1.6 30.4,4.4 21,4 9,4.8" fill="#2b5a9d" opacity="0.78"/>
<polygon points="14,1.6 24,1.6 22,3.4 15,3.6" fill="#6a98d4" opacity="0.8"/>
<rect x="11" y="6.2" width="2.6" height="1.3" fill="#e8b8a0"/><rect x="13.4" y="6.2" width="4" height="1.3" fill="#e2621e"/>
<polygon points="11.5,8.9 30.4,8.5 30.4,20.3 11.5,20.7" fill="url(#lcd)"/>
<path d="M13.4,13.4v3.4M18.6,16.6l1.2,-3.4h2l-1.4,3.6M22.8,13.6h2.2v1.6h-2v1.6h2.2M26.4,13.6h2.2v3.2h-2.2M26.6,15.2h2" stroke="#f2f7ff" stroke-width="0.9" fill="none"/>
<circle cx="14.8" cy="25.4" r="1.35" fill="#ea672b"/>
<circle cx="18.8" cy="25.25" r="1.35" fill="#ea672b"/>
<circle cx="22.7" cy="25.1" r="1.35" fill="#ea672b"/>
<circle cx="26.4" cy="24.95" r="1.35" fill="#ea672b"/>
<path d="M12,28.6 L29,27.2" stroke="#3a3a3e" stroke-width="0.8"/>
</g>
<g transform="translate(441.75,420)" filter="url(#soft)">
<polygon points="0,1.1 7.1,0.6 7.1,30.7 0,24.2" fill="url(#mside)"/>
<polygon points="0,13.6 7.1,14.3 7.1,16.2 0,15.4" fill="#29292b"/>
<polygon points="0,11.8 7.1,12.5 7.1,14.3 0,13.6" fill="#626265"/>
<rect x="13.2" y="-0.1" width="9.2" height="1.6" rx="0.8" fill="#a08c90"/>
<path d="M8,0.6 L33,0.8 Q34,0.8 34,1.8 L33.6,27.2 Q33.6,28.1 32.7,28.2 L8,30.8 Q6.9,30.9 6.9,29.8 L6.9,1.6 Q6.9,0.6 8,0.6Z" fill="#1e1e21"/>
<polygon points="31.8,1.8 33.8,1.8 33.4,27 31.6,27.2" fill="#3a3a3d"/>
<polygon points="8.4,1.5 31,1.6 30.4,4.4 21,4 9,4.8" fill="#2b5a9d" opacity="0.78"/>
<polygon points="14,1.6 24,1.6 22,3.4 15,3.6" fill="#6a98d4" opacity="0.8"/>
<rect x="11" y="6.2" width="2.6" height="1.3" fill="#e8b8a0"/><rect x="13.4" y="6.2" width="4" height="1.3" fill="#e2621e"/>
<polygon points="11.5,8.9 30.4,8.5 30.4,20.3 11.5,20.7" fill="url(#lcd)"/>
<path d="M13.4,13.4v3.4M18.6,16.6l1.2,-3.4h2l-1.4,3.6M22.8,13.6h2.2v1.6h-2v1.6h2.2M26.4,13.6h2.2v3.2h-2.2M26.6,15.2h2" stroke="#f2f7ff" stroke-width="0.9" fill="none"/>
<circle cx="14.8" cy="25.4" r="1.35" fill="#ea672b"/>
<circle cx="18.8" cy="25.25" r="1.35" fill="#ea672b"/>
<circle cx="22.7" cy="25.1" r="1.35" fill="#ea672b"/>
<circle cx="26.4" cy="24.95" r="1.35" fill="#ea672b"/>
<path d="M12,28.6 L29,27.2" stroke="#3a3a3e" stroke-width="0.8"/>
</g>
<g transform="translate(505.5,238.75)" filter="url(#soft)">
<polygon points="0,1.1 7.1,0.6 7.1,30.7 0,24.2" fill="url(#mside)"/>
<polygon points="0,13.6 7.1,14.3 7.1,16.2 0,15.4" fill="#29292b"/>
<polygon points="0,11.8 7.1,12.5 7.1,14.3 0,13.6" fill="#626265"/>
<rect x="13.2" y="-0.1" width="9.2" height="1.6" rx="0.8" fill="#a08c90"/>
<path d="M8,0.6 L33,0.8 Q34,0.8 34,1.8 L33.6,27.2 Q33.6,28.1 32.7,28.2 L8,30.8 Q6.9,30.9 6.9,29.8 L6.9,1.6 Q6.9,0.6 8,0.6Z" fill="#1e1e21"/>
<polygon points="31.8,1.8 33.8,1.8 33.4,27 31.6,27.2" fill="#3a3a3d"/>
<polygon points="8.4,1.5 31,1.6 30.4,4.4 21,4 9,4.8" fill="#2b5a9d" opacity="0.78"/>
<polygon points="14,1.6 24,1.6 22,3.4 15,3.6" fill="#6a98d4" opacity="0.8"/>
<rect x="11" y="6.2" width="2.6" height="1.3" fill="#e8b8a0"/><rect x="13.4" y="6.2" width="4" height="1.3" fill="#e2621e"/>
<polygon points="11.5,8.9 30.4,8.5 30.4,20.3 11.5,20.7" fill="url(#lcd)"/>
<path d="M13.4,13.4v3.4M18.6,16.6l1.2,-3.4h2l-1.4,3.6M22.8,13.6h2.2v1.6h-2v1.6h2.2M26.4,13.6h2.2v3.2h-2.2M26.6,15.2h2" stroke="#f2f7ff" stroke-width="0.9" fill="none"/>
<circle cx="14.8" cy="25.4" r="1.35" fill="#ea672b"/>
<circle cx="18.8" cy="25.25" r="1.35" fill="#ea672b"/>
<circle cx="22.7" cy="25.1" r="1.35" fill="#ea672b"/>
<circle cx="26.4" cy="24.95" r="1.35" fill="#ea672b"/>
<path d="M12,28.6 L29,27.2" stroke="#3a3a3e" stroke-width="0.8"/>
</g>
<g transform="translate(505.5,284.25)" filter="url(#soft)">
<polygon points="0,1.1 7.1,0.6 7.1,30.7 0,24.2" fill="url(#mside)"/>
<polygon points="0,13.6 7.1,14.3 7.1,16.2 0,15.4" fill="#29292b"/>
<polygon points="0,11.8 7.1,12.5 7.1,14.3 0,13.6" fill="#626265"/>
<rect x="13.2" y="-0.1" width="9.2" height="1.6" rx="0.8" fill="#a08c90"/>
<path d="M8,0.6 L33,0.8 Q34,0.8 34,1.8 L33.6,27.2 Q33.6,28.1 32.7,28.2 L8,30.8 Q6.9,30.9 6.9,29.8 L6.9,1.6 Q6.9,0.6 8,0.6Z" fill="#1e1e21"/>
<polygon points="31.8,1.8 33.8,1.8 33.4,27 31.6,27.2" fill="#3a3a3d"/>
<polygon points="8.4,1.5 31,1.6 30.4,4.4 21,4 9,4.8" fill="#2b5a9d" opacity="0.78"/>
<polygon points="14,1.6 24,1.6 22,3.4 15,3.6" fill="#6a98d4" opacity="0.8"/>
<rect x="11" y="6.2" width="2.6" height="1.3" fill="#e8b8a0"/><rect x="13.4" y="6.2" width="4" height="1.3" fill="#e2621e"/>
<polygon points="11.5,8.9 30.4,8.5 30.4,20.3 11.5,20.7" fill="url(#lcd)"/>
<path d="M13.4,13.4v3.4M18.6,16.6l1.2,-3.4h2l-1.4,3.6M22.8,13.6h2.2v1.6h-2v1.6h2.2M26.4,13.6h2.2v3.2h-2.2M26.6,15.2h2" stroke="#f2f7ff" stroke-width="0.9" fill="none"/>
<circle cx="14.8" cy="25.4" r="1.35" fill="#ea672b"/>
<circle cx="18.8" cy="25.25" r="1.35" fill="#ea672b"/>
<circle cx="22.7" cy="25.1" r="1.35" fill="#ea672b"/>
<circle cx="26.4" cy="24.95" r="1.35" fill="#ea672b"/>
<path d="M12,28.6 L29,27.2" stroke="#3a3a3e" stroke-width="0.8"/>
</g>
<g transform="translate(505.5,329.5)" filter="url(#soft)">
<polygon points="0,1.1 7.1,0.6 7.1,30.7 0,24.2" fill="url(#mside)"/>
<polygon points="0,13.6 7.1,14.3 7.1,16.2 0,15.4" fill="#29292b"/>
<polygon points="0,11.8 7.1,12.5 7.1,14.3 0,13.6" fill="#626265"/>
<rect x="13.2" y="-0.1" width="9.2" height="1.6" rx="0.8" fill="#a08c90"/>
<path d="M8,0.6 L33,0.8 Q34,0.8 34,1.8 L33.6,27.2 Q33.6,28.1 32.7,28.2 L8,30.8 Q6.9,30.9 6.9,29.8 L6.9,1.6 Q6.9,0.6 8,0.6Z" fill="#1e1e21"/>
<polygon points="31.8,1.8 33.8,1.8 33.4,27 31.6,27.2" fill="#3a3a3d"/>
<polygon points="8.4,1.5 31,1.6 30.4,4.4 21,4 9,4.8" fill="#2b5a9d" opacity="0.78"/>
<polygon points="14,1.6 24,1.6 22,3.4 15,3.6" fill="#6a98d4" opacity="0.8"/>
<rect x="11" y="6.2" width="2.6" height="1.3" fill="#e8b8a0"/><rect x="13.4" y="6.2" width="4" height="1.3" fill="#e2621e"/>
<polygon points="11.5,8.9 30.4,8.5 30.4,20.3 11.5,20.7" fill="url(#lcd)"/>
<path d="M13.4,13.4v3.4M18.6,16.6l1.2,-3.4h2l-1.4,3.6M22.8,13.6h2.2v1.6h-2v1.6h2.2M26.4,13.6h2.2v3.2h-2.2M26.6,15.2h2" stroke="#f2f7ff" stroke-width="0.9" fill="none"/>
<circle cx="14.8" cy="25.4" r="1.35" fill="#ea672b"/>
<circle cx="18.8" cy="25.25" r="1.35" fill="#ea672b"/>
<circle cx="22.7" cy="25.1" r="1.35" fill="#ea672b"/>
<circle cx="26.4" cy="24.95" r="1.35" fill="#ea672b"/>
<path d="M12,28.6 L29,27.2" stroke="#3a3a3e" stroke-width="0.8"/>
</g>
<g transform="translate(505.5,374.5)" filter="url(#soft)">
<polygon points="0,1.1 7.1,0.6 7.1,30.7 0,24.2" fill="url(#mside)"/>
<polygon points="0,13.6 7.1,14.3 7.1,16.2 0,15.4" fill="#29292b"/>
<polygon points="0,11.8 7.1,12.5 7.1,14.3 0,13.6" fill="#626265"/>
<rect x="13.2" y="-0.1" width="9.2" height="1.6" rx="0.8" fill="#a08c90"/>
<path d="M8,0.6 L33,0.8 Q34,0.8 34,1.8 L33.6,27.2 Q33.6,28.1 32.7,28.2 L8,30.8 Q6.9,30.9 6.9,29.8 L6.9,1.6 Q6.9,0.6 8,0.6Z" fill="#1e1e21"/>
<polygon points="31.8,1.8 33.8,1.8 33.4,27 31.6,27.2" fill="#3a3a3d"/>
<polygon points="8.4,1.5 31,1.6 30.4,4.4 21,4 9,4.8" fill="#2b5a9d" opacity="0.78"/>
<polygon points="14,1.6 24,1.6 22,3.4 15,3.6" fill="#6a98d4" opacity="0.8"/>
<rect x="11" y="6.2" width="2.6" height="1.3" fill="#e8b8a0"/><rect x="13.4" y="6.2" width="4" height="1.3" fill="#e2621e"/>
<polygon points="11.5,8.9 30.4,8.5 30.4,20.3 11.5,20.7" fill="url(#lcd)"/>
<path d="M13.4,13.4v3.4M18.6,16.6l1.2,-3.4h2l-1.4,3.6M22.8,13.6h2.2v1.6h-2v1.6h2.2M26.4,13.6h2.2v3.2h-2.2M26.6,15.2h2" stroke="#f2f7ff" stroke-width="0.9" fill="none"/>
<circle cx="14.8" cy="25.4" r="1.35" fill="#ea672b"/>
<circle cx="18.8" cy="25.25" r="1.35" fill="#ea672b"/>
<circle cx="22.7" cy="25.1" r="1.35" fill="#ea672b"/>
<circle cx="26.4" cy="24.95" r="1.35" fill="#ea672b"/>
<path d="M12,28.6 L29,27.2" stroke="#3a3a3e" stroke-width="0.8"/>
</g>
<g transform="translate(505.5,420)" filter="url(#soft)">
<polygon points="0,1.1 7.1,0.6 7.1,30.7 0,24.2" fill="url(#mside)"/>
<polygon points="0,13.6 7.1,14.3 7.1,16.2 0,15.4" fill="#29292b"/>
<polygon points="0,11.8 7.1,12.5 7.1,14.3 0,13.6" fill="#626265"/>
<rect x="13.2" y="-0.1" width="9.2" height="1.6" rx="0.8" fill="#a08c90"/>
<path d="M8,0.6 L33,0.8 Q34,0.8 34,1.8 L33.6,27.2 Q33.6,28.1 32.7,28.2 L8,30.8 Q6.9,30.9 6.9,29.8 L6.9,1.6 Q6.9,0.6 8,0.6Z" fill="#1e1e21"/>
<polygon points="31.8,1.8 33.8,1.8 33.4,27 31.6,27.2" fill="#3a3a3d"/>
<polygon points="8.4,1.5 31,1.6 30.4,4.4 21,4 9,4.8" fill="#2b5a9d" opacity="0.78"/>
<polygon points="14,1.6 24,1.6 22,3.4 15,3.6" fill="#6a98d4" opacity="0.8"/>
<rect x="11" y="6.2" width="2.6" height="1.3" fill="#e8b8a0"/><rect x="13.4" y="6.2" width="4" height="1.3" fill="#e2621e"/>
<polygon points="11.5,8.9 30.4,8.5 30.4,20.3 11.5,20.7" fill="url(#lcd)"/>
<path d="M13.4,13.4v3.4M18.6,16.6l1.2,-3.4h2l-1.4,3.6M22.8,13.6h2.2v1.6h-2v1.6h2.2M26.4,13.6h2.2v3.2h-2.2M26.6,15.2h2" stroke="#f2f7ff" stroke-width="0.9" fill="none"/>
<circle cx="14.8" cy="25.4" r="1.35" fill="#ea672b"/>
<circle cx="18.8" cy="25.25" r="1.35" fill="#ea672b"/>
<circle cx="22.7" cy="25.1" r="1.35" fill="#ea672b"/>
<circle cx="26.4" cy="24.95" r="1.35" fill="#ea672b"/>
<path d="M12,28.6 L29,27.2" stroke="#3a3a3e" stroke-width="0.8"/>
</g>
<g transform="translate(568.5,238.75)" filter="url(#soft)">
<polygon points="0,1.1 7.1,0.6 7.1,30.7 0,24.2" fill="url(#mside)"/>
<polygon points="0,13.6 7.1,14.3 7.1,16.2 0,15.4" fill="#29292b"/>
<polygon points="0,11.8 7.1,12.5 7.1,14.3 0,13.6" fill="#626265"/>
<rect x="13.2" y="-0.1" width="9.2" height="1.6" rx="0.8" fill="#a08c90"/>
<path d="M8,0.6 L33,0.8 Q34,0.8 34,1.8 L33.6,27.2 Q33.6,28.1 32.7,28.2 L8,30.8 Q6.9,30.9 6.9,29.8 L6.9,1.6 Q6.9,0.6 8,0.6Z" fill="#1e1e21"/>
<polygon points="31.8,1.8 33.8,1.8 33.4,27 31.6,27.2" fill="#3a3a3d"/>
<polygon points="8.4,1.5 31,1.6 30.4,4.4 21,4 9,4.8" fill="#2b5a9d" opacity="0.78"/>
<polygon points="14,1.6 24,1.6 22,3.4 15,3.6" fill="#6a98d4" opacity="0.8"/>
<rect x="11" y="6.2" width="2.6" height="1.3" fill="#e8b8a0"/><rect x="13.4" y="6.2" width="4" height="1.3" fill="#e2621e"/>
<polygon points="11.5,8.9 30.4,8.5 30.4,20.3 11.5,20.7" fill="url(#lcd)"/>
<path d="M13.4,13.4v3.4M18.6,16.6l1.2,-3.4h2l-1.4,3.6M22.8,13.6h2.2v1.6h-2v1.6h2.2M26.4,13.6h2.2v3.2h-2.2M26.6,15.2h2" stroke="#f2f7ff" stroke-width="0.9" fill="none"/>
<circle cx="14.8" cy="25.4" r="1.35" fill="#ea672b"/>
<circle cx="18.8" cy="25.25" r="1.35" fill="#ea672b"/>
<circle cx="22.7" cy="25.1" r="1.35" fill="#ea672b"/>
<circle cx="26.4" cy="24.95" r="1.35" fill="#ea672b"/>
<path d="M12,28.6 L29,27.2" stroke="#3a3a3e" stroke-width="0.8"/>
</g>
<g transform="translate(568.5,284.25)" filter="url(#soft)">
<polygon points="0,1.1 7.1,0.6 7.1,30.7 0,24.2" fill="url(#mside)"/>
<polygon points="0,13.6 7.1,14.3 7.1,16.2 0,15.4" fill="#29292b"/>
<polygon points="0,11.8 7.1,12.5 7.1,14.3 0,13.6" fill="#626265"/>
<rect x="13.2" y="-0.1" width="9.2" height="1.6" rx="0.8" fill="#a08c90"/>
<path d="M8,0.6 L33,0.8 Q34,0.8 34,1.8 L33.6,27.2 Q33.6,28.1 32.7,28.2 L8,30.8 Q6.9,30.9 6.9,29.8 L6.9,1.6 Q6.9,0.6 8,0.6Z" fill="#1e1e21"/>
<polygon points="31.8,1.8 33.8,1.8 33.4,27 31.6,27.2" fill="#3a3a3d"/>
<polygon points="8.4,1.5 31,1.6 30.4,4.4 21,4 9,4.8" fill="#2b5a9d" opacity="0.78"/>
<polygon points="14,1.6 24,1.6 22,3.4 15,3.6" fill="#6a98d4" opacity="0.8"/>
<rect x="11" y="6.2" width="2.6" height="1.3" fill="#e8b8a0"/><rect x="13.4" y="6.2" width="4" height="1.3" fill="#e2621e"/>
<polygon points="11.5,8.9 30.4,8.5 30.4,20.3 11.5,20.7" fill="url(#lcd)"/>
<path d="M13.4,13.4v3.4M18.6,16.6l1.2,-3.4h2l-1.4,3.6M22.8,13.6h2.2v1.6h-2v1.6h2.2M26.4,13.6h2.2v3.2h-2.2M26.6,15.2h2" stroke="#f2f7ff" stroke-width="0.9" fill="none"/>
<circle cx="14.8" cy="25.4" r="1.35" fill="#ea672b"/>
<circle cx="18.8" cy="25.25" r="1.35" fill="#ea672b"/>
<circle cx="22.7" cy="25.1" r="1.35" fill="#ea672b"/>
<circle cx="26.4" cy="24.95" r="1.35" fill="#ea672b"/>
<path d="M12,28.6 L29,27.2" stroke="#3a3a3e" stroke-width="0.8"/>
</g>
<g transform="translate(568.5,329.5)" filter="url(#soft)">
<polygon points="0,1.1 7.1,0.6 7.1,30.7 0,24.2" fill="url(#mside)"/>
<polygon points="0,13.6 7.1,14.3 7.1,16.2 0,15.4" fill="#29292b"/>
<polygon points="0,11.8 7.1,12.5 7.1,14.3 0,13.6" fill="#626265"/>
<rect x="13.2" y="-0.1" width="9.2" height="1.6" rx="0.8" fill="#a08c90"/>
<path d="M8,0.6 L33,0.8 Q34,0.8 34,1.8 L33.6,27.2 Q33.6,28.1 32.7,28.2 L8,30.8 Q6.9,30.9 6.9,29.8 L6.9,1.6 Q6.9,0.6 8,0.6Z" fill="#1e1e21"/>
<polygon points="31.8,1.8 33.8,1.8 33.4,27 31.6,27.2" fill="#3a3a3d"/>
<polygon points="8.4,1.5 31,1.6 30.4,4.4 21,4 9,4.8" fill="#2b5a9d" opacity="0.78"/>
<polygon points="14,1.6 24,1.6 22,3.4 15,3.6" fill="#6a98d4" opacity="0.8"/>
<rect x="11" y="6.2" width="2.6" height="1.3" fill="#e8b8a0"/><rect x="13.4" y="6.2" width="4" height="1.3" fill="#e2621e"/>
<polygon points="11.5,8.9 30.4,8.5 30.4,20.3 11.5,20.7" fill="url(#lcd)"/>
<path d="M13.4,13.4v3.4M18.6,16.6l1.2,-3.4h2l-1.4,3.6M22.8,13.6h2.2v1.6h-2v1.6h2.2M26.4,13.6h2.2v3.2h-2.2M26.6,15.2h2" stroke="#f2f7ff" stroke-width="0.9" fill="none"/>
<circle cx="14.8" cy="25.4" r="1.35" fill="#ea672b"/>
<circle cx="18.8" cy="25.25" r="1.35" fill="#ea672b"/>
<circle cx="22.7" cy="25.1" r="1.35" fill="#ea672b"/>
<circle cx="26.4" cy="24.95" r="1.35" fill="#ea672b"/>
<path d="M12,28.6 L29,27.2" stroke="#3a3a3e" stroke-width="0.8"/>
</g>
<g transform="translate(568.5,374.5)" filter="url(#soft)">
<polygon points="0,1.1 7.1,0.6 7.1,30.7 0,24.2" fill="url(#mside)"/>
<polygon points="0,13.6 7.1,14.3 7.1,16.2 0,15.4" fill="#29292b"/>
<polygon points="0,11.8 7.1,12.5 7.1,14.3 0,13.6" fill="#626265"/>
<rect x="13.2" y="-0.1" width="9.2" height="1.6" rx="0.8" fill="#a08c90"/>
<path d="M8,0.6 L33,0.8 Q34,0.8 34,1.8 L33.6,27.2 Q33.6,28.1 32.7,28.2 L8,30.8 Q6.9,30.9 6.9,29.8 L6.9,1.6 Q6.9,0.6 8,0.6Z" fill="#1e1e21"/>
<polygon points="31.8,1.8 33.8,1.8 33.4,27 31.6,27.2" fill="#3a3a3d"/>
<polygon points="8.4,1.5 31,1.6 30.4,4.4 21,4 9,4.8" fill="#2b5a9d" opacity="0.78"/>
<polygon points="14,1.6 24,1.6 22,3.4 15,3.6" fill="#6a98d4" opacity="0.8"/>
<rect x="11" y="6.2" width="2.6" height="1.3" fill="#e8b8a0"/><rect x="13.4" y="6.2" width="4" height="1.3" fill="#e2621e"/>
<polygon points="11.5,8.9 30.4,8.5 30.4,20.3 11.5,20.7" fill="url(#lcd)"/>
<path d="M13.4,13.4v3.4M18.6,16.6l1.2,-3.4h2l-1.4,3.6M22.8,13.6h2.2v1.6h-2v1.6h2.2M26.4,13.6h2.2v3.2h-2.2M26.6,15.2h2" stroke="#f2f7ff" stroke-width="0.9" fill="none"/>
<circle cx="14.8" cy="25.4" r="1.35" fill="#ea672b"/>
<circle cx="18.8" cy="25.25" r="1.35" fill="#ea672b"/>
<circle cx="22.7" cy="25.1" r="1.35" fill="#ea672b"/>
<circle cx="26.4" cy="24.95" r="1.35" fill="#ea672b"/>
<path d="M12,28.6 L29,27.2" stroke="#3a3a3e" stroke-width="0.8"/>
</g>
<g transform="translate(568.5,420)" filter="url(#soft)">
<polygon points="0,1.1 7.1,0.6 7.1,30.7 0,24.2" fill="url(#mside)"/>
<polygon points="0,13.6 7.1,14.3 7.1,16.2 0,15.4" fill="#29292b"/>
<polygon points="0,11.8 7.1,12.5 7.1,14.3 0,13.6" fill="#626265"/>
<rect x="13.2" y="-0.1" width="9.2" height="1.6" rx="0.8" fill="#a08c90"/>
<path d="M8,0.6 L33,0.8 Q34,0.8 34,1.8 L33.6,27.2 Q33.6,28.1 32.7,28.2 L8,30.8 Q6.9,30.9 6.9,29.8 L6.9,1.6 Q6.9,0.6 8,0.6Z" fill="#1e1e21"/>
<polygon points="31.8,1.8 33.8,1.8 33.4,27 31.6,27.2" fill="#3a3a3d"/>
<polygon points="8.4,1.5 31,1.6 30.4,4.4 21,4 9,4.8" fill="#2b5a9d" opacity="0.78"/>
<polygon points="14,1.6 24,1.6 22,3.4 15,3.6" fill="#6a98d4" opacity="0.8"/>
<rect x="11" y="6.2" width="2.6" height="1.3" fill="#e8b8a0"/><rect x="13.4" y="6.2" width="4" height="1.3" fill="#e2621e"/>
<polygon points="11.5,8.9 30.4,8.5 30.4,20.3 11.5,20.7" fill="url(#lcd)"/>
<path d="M13.4,13.4v3.4M18.6,16.6l1.2,-3.4h2l-1.4,3.6M22.8,13.6h2.2v1.6h-2v1.6h2.2M26.4,13.6h2.2v3.2h-2.2M26.6,15.2h2" stroke="#f2f7ff" stroke-width="0.9" fill="none"/>
<circle cx="14.8" cy="25.4" r="1.35" fill="#ea672b"/>
<circle cx="18.8" cy="25.25" r="1.35" fill="#ea672b"/>
<circle cx="22.7" cy="25.1" r="1.35" fill="#ea672b"/>
<circle cx="26.4" cy="24.95" r="1.35" fill="#ea672b"/>
<path d="M12,28.6 L29,27.2" stroke="#3a3a3e" stroke-width="0.8"/>
</g>
<g transform="translate(631.75,238.75)" filter="url(#soft)">
<polygon points="0,1.1 7.1,0.6 7.1,30.7 0,24.2" fill="url(#mside)"/>
<polygon points="0,13.6 7.1,14.3 7.1,16.2 0,15.4" fill="#29292b"/>
<polygon points="0,11.8 7.1,12.5 7.1,14.3 0,13.6" fill="#626265"/>
<rect x="13.2" y="-0.1" width="9.2" height="1.6" rx="0.8" fill="#a08c90"/>
<path d="M8,0.6 L33,0.8 Q34,0.8 34,1.8 L33.6,27.2 Q33.6,28.1 32.7,28.2 L8,30.8 Q6.9,30.9 6.9,29.8 L6.9,1.6 Q6.9,0.6 8,0.6Z" fill="#1e1e21"/>
<polygon points="31.8,1.8 33.8,1.8 33.4,27 31.6,27.2" fill="#3a3a3d"/>
<polygon points="8.4,1.5 31,1.6 30.4,4.4 21,4 9,4.8" fill="#2b5a9d" opacity="0.78"/>
<polygon points="14,1.6 24,1.6 22,3.4 15,3.6" fill="#6a98d4" opacity="0.8"/>
<rect x="11" y="6.2" width="2.6" height="1.3" fill="#e8b8a0"/><rect x="13.4" y="6.2" width="4" height="1.3" fill="#e2621e"/>
<polygon points="11.5,8.9 30.4,8.5 30.4,20.3 11.5,20.7" fill="url(#lcd)"/>
<path d="M13.4,13.4v3.4M18.6,16.6l1.2,-3.4h2l-1.4,3.6M22.8,13.6h2.2v1.6h-2v1.6h2.2M26.4,13.6h2.2v3.2h-2.2M26.6,15.2h2" stroke="#f2f7ff" stroke-width="0.9" fill="none"/>
<circle cx="14.8" cy="25.4" r="1.35" fill="#ea672b"/>
<circle cx="18.8" cy="25.25" r="1.35" fill="#ea672b"/>
<circle cx="22.7" cy="25.1" r="1.35" fill="#ea672b"/>
<circle cx="26.4" cy="24.95" r="1.35" fill="#ea672b"/>
<path d="M12,28.6 L29,27.2" stroke="#3a3a3e" stroke-width="0.8"/>
</g>
<g transform="translate(631.75,284.25)" filter="url(#soft)">
<polygon points="0,1.1 7.1,0.6 7.1,30.7 0,24.2" fill="url(#mside)"/>
<polygon points="0,13.6 7.1,14.3 7.1,16.2 0,15.4" fill="#29292b"/>
<polygon points="0,11.8 7.1,12.5 7.1,14.3 0,13.6" fill="#626265"/>
<rect x="13.2" y="-0.1" width="9.2" height="1.6" rx="0.8" fill="#a08c90"/>
<path d="M8,0.6 L33,0.8 Q34,0.8 34,1.8 L33.6,27.2 Q33.6,28.1 32.7,28.2 L8,30.8 Q6.9,30.9 6.9,29.8 L6.9,1.6 Q6.9,0.6 8,0.6Z" fill="#1e1e21"/>
<polygon points="31.8,1.8 33.8,1.8 33.4,27 31.6,27.2" fill="#3a3a3d"/>
<polygon points="8.4,1.5 31,1.6 30.4,4.4 21,4 9,4.8" fill="#2b5a9d" opacity="0.78"/>
<polygon points="14,1.6 24,1.6 22,3.4 15,3.6" fill="#6a98d4" opacity="0.8"/>
<rect x="11" y="6.2" width="2.6" height="1.3" fill="#e8b8a0"/><rect x="13.4" y="6.2" width="4" height="1.3" fill="#e2621e"/>
<polygon points="11.5,8.9 30.4,8.5 30.4,20.3 11.5,20.7" fill="url(#lcd)"/>
<path d="M13.4,13.4v3.4M18.6,16.6l1.2,-3.4h2l-1.4,3.6M22.8,13.6h2.2v1.6h-2v1.6h2.2M26.4,13.6h2.2v3.2h-2.2M26.6,15.2h2" stroke="#f2f7ff" stroke-width="0.9" fill="none"/>
<circle cx="14.8" cy="25.4" r="1.35" fill="#ea672b"/>
<circle cx="18.8" cy="25.25" r="1.35" fill="#ea672b"/>
<circle cx="22.7" cy="25.1" r="1.35" fill="#ea672b"/>
<circle cx="26.4" cy="24.95" r="1.35" fill="#ea672b"/>
<path d="M12,28.6 L29,27.2" stroke="#3a3a3e" stroke-width="0.8"/>
</g>
<g transform="translate(631.75,329.5)" filter="url(#soft)">
<polygon points="0,1.1 7.1,0.6 7.1,30.7 0,24.2" fill="url(#mside)"/>
<polygon points="0,13.6 7.1,14.3 7.1,16.2 0,15.4" fill="#29292b"/>
<polygon points="0,11.8 7.1,12.5 7.1,14.3 0,13.6" fill="#626265"/>
<rect x="13.2" y="-0.1" width="9.2" height="1.6" rx="0.8" fill="#a08c90"/>
<path d="M8,0.6 L33,0.8 Q34,0.8 34,1.8 L33.6,27.2 Q33.6,28.1 32.7,28.2 L8,30.8 Q6.9,30.9 6.9,29.8 L6.9,1.6 Q6.9,0.6 8,0.6Z" fill="#1e1e21"/>
<polygon points="31.8,1.8 33.8,1.8 33.4,27 31.6,27.2" fill="#3a3a3d"/>
<polygon points="8.4,1.5 31,1.6 30.4,4.4 21,4 9,4.8" fill="#2b5a9d" opacity="0.78"/>
<polygon points="14,1.6 24,1.6 22,3.4 15,3.6" fill="#6a98d4" opacity="0.8"/>
<rect x="11" y="6.2" width="2.6" height="1.3" fill="#e8b8a0"/><rect x="13.4" y="6.2" width="4" height="1.3" fill="#e2621e"/>
<polygon points="11.5,8.9 30.4,8.5 30.4,20.3 11.5,20.7" fill="url(#lcd)"/>
<path d="M13.4,13.4v3.4M18.6,16.6l1.2,-3.4h2l-1.4,3.6M22.8,13.6h2.2v1.6h-2v1.6h2.2M26.4,13.6h2.2v3.2h-2.2M26.6,15.2h2" stroke="#f2f7ff" stroke-width="0.9" fill="none"/>
<circle cx="14.8" cy="25.4" r="1.35" fill="#ea672b"/>
<circle cx="18.8" cy="25.25" r="1.35" fill="#ea672b"/>
<circle cx="22.7" cy="25.1" r="1.35" fill="#ea672b"/>
<circle cx="26.4" cy="24.95" r="1.35" fill="#ea672b"/>
<path d="M12,28.6 L29,27.2" stroke="#3a3a3e" stroke-width="0.8"/>
</g>
<g transform="translate(631.75,374.5)" filter="url(#soft)">
<polygon points="0,1.1 7.1,0.6 7.1,30.7 0,24.2" fill="url(#mside)"/>
<polygon points="0,13.6 7.1,14.3 7.1,16.2 0,15.4" fill="#29292b"/>
<polygon points="0,11.8 7.1,12.5 7.1,14.3 0,13.6" fill="#626265"/>
<rect x="13.2" y="-0.1" width="9.2" height="1.6" rx="0.8" fill="#a08c90"/>
<path d="M8,0.6 L33,0.8 Q34,0.8 34,1.8 L33.6,27.2 Q33.6,28.1 32.7,28.2 L8,30.8 Q6.9,30.9 6.9,29.8 L6.9,1.6 Q6.9,0.6 8,0.6Z" fill="#1e1e21"/>
<polygon points="31.8,1.8 33.8,1.8 33.4,27 31.6,27.2" fill="#3a3a3d"/>
<polygon points="8.4,1.5 31,1.6 30.4,4.4 21,4 9,4.8" fill="#2b5a9d" opacity="0.78"/>
<polygon points="14,1.6 24,1.6 22,3.4 15,3.6" fill="#6a98d4" opacity="0.8"/>
<rect x="11" y="6.2" width="2.6" height="1.3" fill="#e8b8a0"/><rect x="13.4" y="6.2" width="4" height="1.3" fill="#e2621e"/>
<polygon points="11.5,8.9 30.4,8.5 30.4,20.3 11.5,20.7" fill="url(#lcd)"/>
<path d="M13.4,13.4v3.4M18.6,16.6l1.2,-3.4h2l-1.4,3.6M22.8,13.6h2.2v1.6h-2v1.6h2.2M26.4,13.6h2.2v3.2h-2.2M26.6,15.2h2" stroke="#f2f7ff" stroke-width="0.9" fill="none"/>
<circle cx="14.8" cy="25.4" r="1.35" fill="#ea672b"/>
<circle cx="18.8" cy="25.25" r="1.35" fill="#ea672b"/>
<circle cx="22.7" cy="25.1" r="1.35" fill="#ea672b"/>
<circle cx="26.4" cy="24.95" r="1.35" fill="#ea672b"/>
<path d="M12,28.6 L29,27.2" stroke="#3a3a3e" stroke-width="0.8"/>
</g>
<g transform="translate(631.75,420)" filter="url(#soft)">
<polygon points="0,1.1 7.1,0.6 7.1,30.7 0,24.2" fill="url(#mside)"/>
<polygon points="0,13.6 7.1,14.3 7.1,16.2 0,15.4" fill="#29292b"/>
<polygon points="0,11.8 7.1,12.5 7.1,14.3 0,13.6" fill="#626265"/>
<rect x="13.2" y="-0.1" width="9.2" height="1.6" rx="0.8" fill="#a08c90"/>
<path d="M8,0.6 L33,0.8 Q34,0.8 34,1.8 L33.6,27.2 Q33.6,28.1 32.7,28.2 L8,30.8 Q6.9,30.9 6.9,29.8 L6.9,1.6 Q6.9,0.6 8,0.6Z" fill="#1e1e21"/>
<polygon points="31.8,1.8 33.8,1.8 33.4,27 31.6,27.2" fill="#3a3a3d"/>
<polygon points="8.4,1.5 31,1.6 30.4,4.4 21,4 9,4.8" fill="#2b5a9d" opacity="0.78"/>
<polygon points="14,1.6 24,1.6 22,3.4 15,3.6" fill="#6a98d4" opacity="0.8"/>
<rect x="11" y="6.2" width="2.6" height="1.3" fill="#e8b8a0"/><rect x="13.4" y="6.2" width="4" height="1.3" fill="#e2621e"/>
<polygon points="11.5,8.9 30.4,8.5 30.4,20.3 11.5,20.7" fill="url(#lcd)"/>
<path d="M13.4,13.4v3.4M18.6,16.6l1.2,-3.4h2l-1.4,3.6M22.8,13.6h2.2v1.6h-2v1.6h2.2M26.4,13.6h2.2v3.2h-2.2M26.6,15.2h2" stroke="#f2f7ff" stroke-width="0.9" fill="none"/>
<circle cx="14.8" cy="25.4" r="1.35" fill="#ea672b"/>
<circle cx="18.8" cy="25.25" r="1.35" fill="#ea672b"/>
<circle cx="22.7" cy="25.1" r="1.35" fill="#ea672b"/>
<circle cx="26.4" cy="24.95" r="1.35" fill="#ea672b"/>
<path d="M12,28.6 L29,27.2" stroke="#3a3a3e" stroke-width="0.8"/>
</g>
<!-- UPS -->
<g filter="url(#soft)">
<polygon points="271,56.3 277.6,55 277.6,106.2 271,99.6" fill="#d2d2c9"/>
<polygon points="277.6,55 302.4,54.7 302.4,103.6 277.6,106.4" fill="url(#upsF)"/>
<polygon points="271,56.3 277.6,55 302.4,54.7 296,54.2 274,54.6" fill="#f1f1ea"/>
<polygon points="284.3,59.4 296,58.2 296,61.3 284.3,62.6" fill="#3a3a38"/>
<path d="M286.2,60.9 L294.6,60" stroke="#e0e0d8" stroke-width="1"/>
<rect x="285.6" y="63.4" width="5.5" height="0.9" fill="#8c8c86"/>
<rect x="278.8" y="82" width="6.8" height="17.8" fill="#b3b3ab"/>
<path d="M279.6,83v16M281.2,83v16M282.8,83v16M284.4,83v16" stroke="#d9d9d2" stroke-width="0.6"/>
<rect x="296.2" y="72.8" width="5" height="1.9" fill="#8fa8c4"/>
<path d="M278,105.4 L302.4,102.8" stroke="#b4b4ab" stroke-width="1.4"/>
<path d="M280,106.2h3M286.5,105.6h3M293,104.9h3M298.8,104.2h2.6" stroke="#8e8e86" stroke-width="1"/>
</g>
<!-- PC tower -->
<g filter="url(#soft)">
<polygon points="389.2,52.7 410.8,56.7 410.8,112.2 389.2,98.8" fill="url(#pcS)"/>
<polygon points="389.2,52.7 397,51.8 429,55.8 410.8,56.7" fill="#4a4a4b"/>
<polygon points="410.8,56.7 429,55.8 429,109.8 410.8,112.2" fill="#18181a"/>
<polygon points="412.3,58.4 424.9,57.8 424.9,108.6 412.3,110.2" fill="url(#pcF)"/>
<rect x="412.3" y="82.3" width="12.6" height="0.9" fill="#4c4c4a"/>
<rect x="417.8" y="83" width="0.9" height="26" fill="#4f4f4d"/>
<rect x="413.4" y="60.3" width="1.6" height="1.4" fill="#b7c3cf"/>
<rect x="413.2" y="85" width="1.6" height="1.4" fill="#a9b6c4"/>
<circle cx="421.2" cy="98.8" r="2.3" fill="#3c5f9e"/>
<circle cx="421.2" cy="98.8" r="1.5" fill="#d9e8ff"/>
<rect x="426.6" y="59.8" width="1.7" height="2.6" fill="#b03a3a"/>
<ellipse cx="393.5" cy="69" rx="1.8" ry="3.2" fill="#3a3a3a"/>
<path d="M400.5,62 l3.2,0.6 v12 l-3.2,-0.6z" fill="#474747"/>
<path d="M399,94 l5,1.8 v6 l-5,-2z" fill="#3d3d3d" opacity="0.7"/>
</g>
<!-- Monitor -->
<g filter="url(#soft)">
<rect x="451.1" y="98" width="12.6" height="8.5" fill="#17171a"/>
<ellipse cx="457.4" cy="107.4" rx="15" ry="3.3" fill="#18181b"/>
<polygon points="430.7,44.4 486.5,46.6 486.5,95.8 430.7,101.3" fill="url(#monB)"/>
<polygon points="435.1,48.6 484.9,49.7 484.9,83.7 435.1,84.8" fill="#120d10"/>
<polygon points="435.1,84.8 484.9,83.7 484.9,90.6 435.1,92.2" fill="#dce6f5"/>
<polygon points="469.5,84.4 484.9,83.9 484.9,90.4 469.5,91" fill="#c3cde6"/>
<path d="M437,86.4v4.6M440.5,86.2v4.6M447,86v4.6M453.5,85.8v4.6M460,85.6v4.6M464.5,85.6v4.4" stroke="#5d6fd0" stroke-width="1.1" opacity="0.75"/>
<path d="M463.7,52v31M476.3,52v31" stroke="#6a666a" stroke-width="0.7"/>
<rect x="446.5" y="50.4" width="23" height="1.3" fill="#a8941e" opacity="0.9"/>
<g fill="#c22d2d" opacity="0.8"><rect x="455.6" y="54.0" width="1.6" height="0.9"/><rect x="461.8" y="54.0" width="3.4" height="0.9"/><rect x="456.6" y="56.4" width="3.4" height="0.9"/><rect x="478.2" y="56.4" width="3.4" height="0.9"/><rect x="445.8" y="58.8" width="3.4" height="0.9"/><rect x="461.4" y="58.8" width="2.8" height="0.9"/><rect x="436.4" y="61.2" width="2.2" height="0.9"/><rect x="444.8" y="61.2" width="2.8" height="0.9"/><rect x="462.6" y="61.2" width="3.4" height="0.9"/><rect x="436.4" y="63.6" width="1.6" height="0.9"/><rect x="447.8" y="63.6" width="2.8" height="0.9"/><rect x="455.0" y="63.6" width="3.4" height="0.9"/><rect x="456.2" y="66.0" width="2.2" height="0.9"/><rect x="478.2" y="66.0" width="2.8" height="0.9"/><rect x="443.0" y="70.8" width="2.2" height="0.9"/><rect x="456.6" y="70.8" width="1.6" height="0.9"/><rect x="448.6" y="73.2" width="2.2" height="0.9"/><rect x="436.4" y="75.6" width="2.2" height="0.9"/><rect x="468.0" y="75.6" width="2.8" height="0.9"/><rect x="440.0" y="78.0" width="1.6" height="0.9"/><rect x="458.0" y="78.0" width="2.8" height="0.9"/><rect x="474.2" y="78.0" width="1.6" height="0.9"/><rect x="479.0" y="78.0" width="1.6" height="0.9"/><rect x="444.6" y="80.4" width="2.8" height="0.9"/><rect x="450.6" y="80.4" width="2.8" height="0.9"/></g>
<g fill="#2f9a3a" opacity="0.8"><rect x="443.6" y="54.0" width="1.6" height="0.9"/><rect x="452.0" y="54.0" width="1.6" height="0.9"/><rect x="467.2" y="54.0" width="2.8" height="0.9"/><rect x="473.2" y="54.0" width="2.2" height="0.9"/><rect x="481.4" y="54.0" width="2.2" height="0.9"/><rect x="436.4" y="56.4" width="3.4" height="0.9"/><rect x="447.2" y="56.4" width="1.6" height="0.9"/><rect x="464.4" y="56.4" width="3.4" height="0.9"/><rect x="457.2" y="58.8" width="2.2" height="0.9"/><rect x="468.6" y="58.8" width="3.4" height="0.9"/><rect x="476.4" y="61.2" width="2.2" height="0.9"/><rect x="479.8" y="61.2" width="1.6" height="0.9"/><rect x="465.6" y="66.0" width="2.8" height="0.9"/><rect x="436.4" y="68.4" width="2.2" height="0.9"/><rect x="478.4" y="68.4" width="2.2" height="0.9"/><rect x="460.2" y="70.8" width="2.8" height="0.9"/><rect x="477.6" y="70.8" width="2.2" height="0.9"/><rect x="436.4" y="73.2" width="2.2" height="0.9"/><rect x="439.8" y="73.2" width="1.6" height="0.9"/><rect x="462.0" y="73.2" width="2.8" height="0.9"/><rect x="478.8" y="73.2" width="3.4" height="0.9"/><rect x="461.4" y="75.6" width="2.2" height="0.9"/><rect x="472.0" y="75.6" width="2.8" height="0.9"/><rect x="479.2" y="75.6" width="1.6" height="0.9"/><rect x="450.8" y="78.0" width="2.8" height="0.9"/><rect x="466.8" y="80.4" width="3.4" height="0.9"/></g>
<g fill="#c9c4c4" opacity="0.8"><rect x="477.4" y="54.0" width="2.8" height="0.9"/><rect x="440.6" y="61.2" width="2.2" height="0.9"/><rect x="442.4" y="66.0" width="2.2" height="0.9"/><rect x="447.8" y="66.0" width="2.2" height="0.9"/><rect x="452.0" y="73.2" width="3.4" height="0.9"/><rect x="457.8" y="80.4" width="2.2" height="0.9"/><rect x="463.2" y="80.4" width="1.6" height="0.9"/></g>
<g fill="#b9a21c" opacity="0.8"><rect x="436.4" y="66.0" width="2.8" height="0.9"/><rect x="462.4" y="68.4" width="2.8" height="0.9"/><rect x="469.6" y="68.4" width="3.4" height="0.9"/><rect x="446.4" y="70.8" width="1.6" height="0.9"/><rect x="445.4" y="75.6" width="2.8" height="0.9"/><rect x="436.4" y="78.0" width="1.6" height="0.9"/><rect x="474.6" y="80.4" width="3.4" height="0.9"/></g>
<g fill="#9a3aa0" opacity="0.8"><rect x="452.0" y="56.4" width="3.4" height="0.9"/><rect x="470.4" y="61.2" width="1.6" height="0.9"/><rect x="470.6" y="63.6" width="1.6" height="0.9"/><rect x="456.6" y="73.2" width="3.4" height="0.9"/></g>
<rect x="457.6" y="92.6" width="1.6" height="1.4" fill="#4faa4f"/>
</g>
<!-- Printer -->
<g filter="url(#soft)">
<rect x="576.7" y="68.2" width="1.5" height="7" fill="#252527"/>
<path d="M565,73.3 L606,73.3 Q608.6,73.3 609.2,76 L611,85.5 L611,102.5 Q611,104.4 609,104.4 L562,104.4 Q560.2,104.4 560.2,102.5 L560.2,85.5 L562.6,75.5 Q563.3,73.3 565,73.3Z" fill="url(#prB)"/>
<rect x="560.2" y="87.2" width="50.8" height="5.6" fill="#141416"/>
<rect x="573.2" y="86.6" width="27.6" height="6.6" fill="#57575c"/>
<rect x="575" y="88" width="9" height="3.6" fill="#2b2b2e"/>
<path d="M586.5,89h13M586.5,91h13" stroke="#85858a" stroke-width="0.8"/>
<rect x="599" y="87.6" width="1.5" height="4.6" fill="#cfcfd2"/>
<polygon points="581.6,74.2 600.8,73.8 603.6,81.7 582.8,82" fill="#f2f2ec"/>
<path d="M584.5,75.5l0.8,5.5M592,75.2l1,5.6M597.5,75l1.2,5.6" stroke="#7fae6a" stroke-width="1"/>
<rect x="582.4" y="76" width="1.5" height="5" fill="#3b66b5"/>
<rect x="575.4" y="76.2" width="5.6" height="4.6" fill="#8e6a34"/>
<polygon points="576.8,95.6 599.6,95.6 600.9,104.4 575.4,104.4" fill="#f5f5f1"/>
<rect x="578" y="100.4" width="21" height="2.3" fill="#dc6a2a"/>
<rect x="578" y="102.6" width="21" height="0.9" fill="#5aa05a"/>
<rect x="565" y="82.5" width="4" height="1" fill="#8a8a8e"/>
</g>
<!-- Expansion card -->
<g filter="url(#soft)">
<polygon points="394.4,178.4 424.8,159.6 434,155.2 440,157 452,170 438,182.6 413.4,199.8" fill="#161616"/>
<polygon points="394.2,177.6 424.6,159 426.2,162.6 396,181.4" fill="#b08f2c"/>
<path d="M400.4,174.6l1.2,3.2M422,161.2l1.3,3.2" stroke="#e6d9a0" stroke-width="0.8"/>
<polygon points="435,139.4 437.4,139.2 443.4,145.6 442,150.2 436.6,150.6 435.8,146" fill="#cbc5c1"/>
<polygon points="434.2,151.8 441.5,145.6 458.4,161.8 449,171.2 436,161" fill="#1a1a1b"/>
<polygon points="457.3,164 460,163.2 474.6,177 464.4,182.6 454,175.8 455,168" fill="#1a1a1b"/>
<polygon points="446.6,150 455.2,158.2 457,156.6 449,148.6" fill="#3e3e41"/>
<polygon points="463.6,166.6 471.6,174.2 473.2,172.6 465.6,165.2" fill="#3e3e41"/>
<path d="M438,141.6 L476.4,178.6" stroke="#9f9a98" stroke-width="1.3" fill="none"/>
<polygon points="473.6,176 480.8,177.6 481.2,179.4 478.4,184 475.6,183.4 472.4,179" fill="#cfc9c5"/>
<path d="M430.6,165.2 Q440,160.4 449.6,168.6" stroke="#d6d2d3" stroke-width="4" fill="none"/>
<path d="M431.6,166.2 Q440,162.2 447.6,168.6" stroke="#cf6060" stroke-width="0.8" fill="none"/>
<path d="M435.4,176.4 Q446,183 458,172.4" stroke="#d9d5d5" stroke-width="3.2" fill="none"/>
<polygon points="412.6,178.2 419.4,174.4 421.8,179.4 415,183" fill="#5b5f64"/>
<g stroke="#8d8d90" stroke-width="0.8" fill="none">
<path d="M408.6,176.6l1.6,2.8M411,175.2l1.6,2.8M413.4,173.8l1.4,2.4M415.8,172.4l1.4,2.4M418.2,171l1.4,2.4M420.6,169.6l1.4,2.4"/>
<path d="M417,184.4l1.4,2.6M419.4,183l1.4,2.6M421.8,181.8l1.4,2.4"/>
</g>
<g fill="#a3a3a6"><ellipse cx="405.4" cy="186" rx="1.6" ry="1.3"/><ellipse cx="413.8" cy="189.8" rx="1.7" ry="1.5"/><circle cx="409.6" cy="182.4" r="0.9"/><circle cx="424" cy="184.4" r="0.8"/><circle cx="403" cy="181.4" r="0.8"/><circle cx="426.4" cy="167.4" r="0.9"/><circle cx="418.4" cy="192" r="0.8"/></g>
<circle cx="428.6" cy="173.4" r="1.2" fill="#eae6de"/>
<circle cx="431.4" cy="171" r="0.9" fill="#4f78c0"/>
</g>

<g filter="url(#tsoft)">
<text class="cn" transform="translate(257.0,32.5) scale(1,0.9)"><tspan class="ups" x="0" y="0.45" textLength="22.2" lengthAdjust="spacingAndGlyphs">UPS</tspan><tspan x="22.2" y="0">电源</tspan></text>
<text class="cn" transform="translate(408.7,32.5) scale(1,0.9)">监控主机</text>
<text class="cn" transform="translate(561.8,32.5) scale(1,0.9)">打印机</text>
<text class="cn" transform="translate(494.6,179.0) scale(1,0.9)">扩展卡</text>
<text class="en" transform="translate(183.6,127.8) scale(0.95,1.02)">TCP/IP</text>
<text class="en" transform="translate(675.2,439.9) scale(0.97,1.02)">PZ72-E4/KC</text>
</g>
</svg>
</body></html>
